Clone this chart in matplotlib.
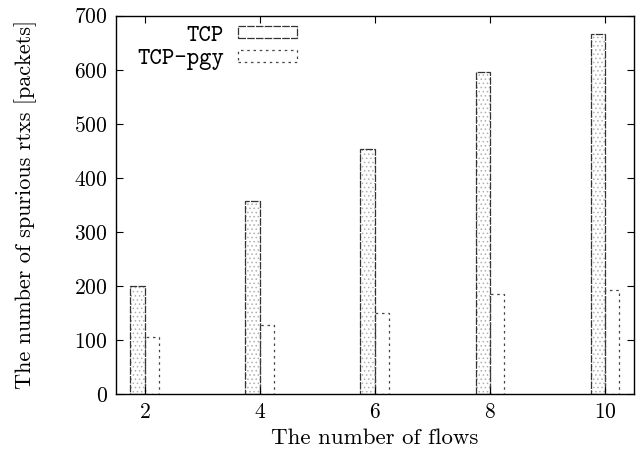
import numpy as np
import matplotlib
matplotlib.use('Agg')
import matplotlib.pyplot as plt

plt.rcParams.update({
    'font.family': 'cmr10',
    'axes.formatter.use_mathtext': True,
    'font.size': 15,
    'hatch.linewidth': 0.6,
})

flows = [2, 4, 6, 8, 10]
tcp = [200, 357, 453, 595, 667]
tcp_pgy = [106, 128, 150, 186, 193]

fig = plt.figure(figsize=(6.37, 4.63), dpi=100)
ax = fig.add_axes([0.182, 0.149, 0.813, 0.817])

x = np.array(flows, dtype=float)
w = 0.25

# TCP: light dotted fill, dark edge
ax.bar(x - w / 2, tcp, width=w, color='white', edgecolor='#b0b0b0',
       hatch='....', linewidth=0)
ax.bar(x - w / 2, tcp, width=w, fill=False, edgecolor='#333333',
       linewidth=0.9, linestyle=(0, (6, 1)), label='TCP')
# TCP-pgy: open box with dotted edge
ax.bar(x + w / 2, tcp_pgy, width=w, fill=False, edgecolor='#444444',
       linewidth=0.9, linestyle=(0, (2, 3)), label='TCP-pgy')

ax.set_xlim(1.5, 10.5)
ax.set_ylim(0, 700)
ax.set_xticks(flows)
ax.set_yticks(range(0, 701, 100))
ax.tick_params(direction='in', top=True, right=True, length=5, labelsize=15.5)
ax.tick_params(axis='x', pad=6)
ax.tick_params(axis='y', pad=6)
for s in ax.spines.values():
    s.set_linewidth(1.0)

ax.set_xlabel('The number of flows', fontsize=16.5, labelpad=5)
ax.set_ylabel('The number of spurious rtxs [packets]', fontsize=16, labelpad=27)

leg = ax.legend(loc='upper left', bbox_to_anchor=(0.0, 1.03), frameon=False,
                markerfirst=False, handlelength=2.5, handleheight=0.4,
                handletextpad=0.6, labelspacing=0.1,
                prop={'family': 'cmtt10', 'size': 17})
for t in leg.get_texts():
    t.set_ha('right')

fig.savefig('out.png', dpi=100)
